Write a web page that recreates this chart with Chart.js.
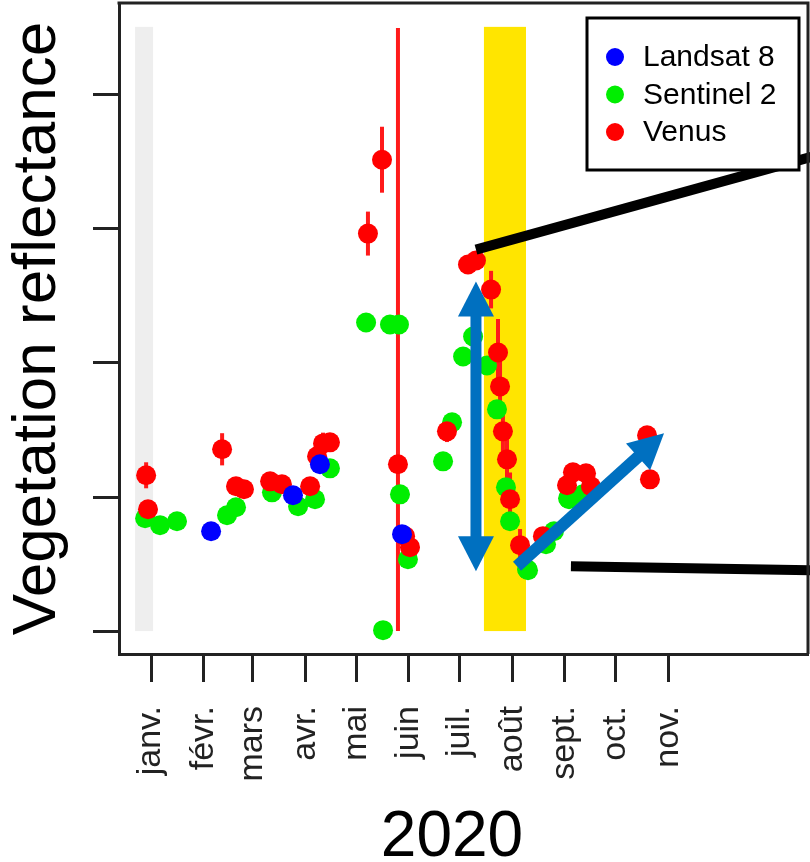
<!DOCTYPE html>
<html>
<head>
<meta charset="utf-8">
<script src="https://cdn.jsdelivr.net/npm/chart.js@4.4.1/dist/chart.umd.min.js"></script>
<style>
  html, body { margin: 0; padding: 0; background: #fff; overflow: hidden; }
</style>
</head>
<body>
<canvas id="chart" width="810" height="862"></canvas>
<script>
// x values are days since 1 Jan 2020, y values are reflectance
const monthDays = [0, 31, 60, 91, 121, 152, 182, 213, 244, 274, 305];
const monthLabels = ['janv.', 'févr.', 'mars', 'avr.', 'mai', 'juin', 'juil.', 'août', 'sept.', 'oct.', 'nov.'];
const yTicks = [0, 0.1, 0.2, 0.3, 0.4];
const xMin = -18.9, xMax = 387.4;
const yMin = -0.0171, yMax = 0.4685;

const landsatDay = [35.4, 83.7, 99.6, 148.0];
const landsatRefl = [0.0745, 0.1013, 0.1244, 0.0723];

const sentinelDay = [-3.5, 5.3, 15.3, 44.8, 50.1, 71.3, 86.7, 96.7, 105.5, 126.8, 140.9, 146.2, 136.8, 146.8, 151.5,
  172.2, 177.5, 184.0, 189.9, 198.1, 204.0, 209.3, 211.7, 221.7, 222.3, 232.9, 237.6, 245.9, 246.5, 254.7];
const sentinelRefl = [0.0842, 0.0790, 0.0819, 0.0864, 0.0924, 0.1035, 0.0931, 0.0983, 0.1214, 0.2302, 0.2287, 0.2287, 0.0007, 0.1020, 0.0536,
  0.1266, 0.1557, 0.2048, 0.2197, 0.1981, 0.1654, 0.1073, 0.0819, 0.0462, 0.0454, 0.0648, 0.0745, 0.0991, 0.0983, 0.1020];

const venusDay = [-2.9, -1.8, 41.9, 50.1, 54.8, 70.2, 77.2, 93.8, 97.9, 101.4, 105.5, 127.9, 136.2, 145.6, 149.8, 152.7,
  174.5, 186.9, 191.6, 200.5, 204.6, 205.8, 207.5, 209.9, 211.7, 217.6, 231.1, 245.3, 248.8, 256.5, 259.4, 292.5, 294.2];
const venusRefl = [0.1162, 0.0909, 0.1356, 0.1080, 0.1058, 0.1117, 0.1095, 0.1080, 0.1304, 0.1400, 0.1408, 0.2965, 0.3516, 0.1244, 0.0708, 0.0626,
  0.1490, 0.2734, 0.2764, 0.2547, 0.2078, 0.1825, 0.1490, 0.1281, 0.0983, 0.0641, 0.0708, 0.1088, 0.1184, 0.1177, 0.1080, 0.1460, 0.1132];
// error bar ends (low / high)
const venusLow = [0.1065, 0.0909, 0.1236, 0.1080, 0.1058, 0.1117, 0.1095, 0.1080, 0.1304, 0.1320, 0.1408, 0.2801, 0.3270, 0.0000, 0.0708, 0.0626,
  0.1410, 0.2734, 0.2764, 0.2407, 0.1828, 0.1625, 0.1290, 0.1081, 0.0783, 0.0521, 0.0708, 0.1088, 0.1184, 0.1177, 0.1080, 0.1460, 0.1132];
const venusHigh = [0.1259, 0.0909, 0.1476, 0.1080, 0.1058, 0.1117, 0.1095, 0.1080, 0.1304, 0.1480, 0.1408, 0.3129, 0.3762, 0.4499, 0.0708, 0.0626,
  0.1570, 0.2734, 0.2764, 0.2687, 0.2328, 0.2025, 0.1690, 0.1481, 0.1183, 0.0761, 0.0708, 0.1088, 0.1184, 0.1177, 0.1080, 0.1460, 0.1132];

// shaded periods (days) and their top
const grayBand = [-9.4, 1.2];
const yellowBand = [196.3, 221.1];
const bandTop = 0.4507;

// annotation strokes in data units [day, refl]
const blackLines = [
  [[191.6, 0.2845], [389.7, 0.3538]],
  [[247.6, 0.0484], [389.7, 0.0454]]
];
const upDownArrow = [[191.6, 0.0447], [191.6, 0.2607]];
const riseArrow = [[215.8, 0.0484], [302.5, 0.1475]];

const FONT = "'Liberation Sans', Arial, sans-serif";

function toPoints(xs, ys) {
    return xs.map((x, i) => ({ x: x, y: ys[i] }));
}

function drawArrow(ctx, a, b, shaft, headLen, headHalf, both) {
    const dx = b.x - a.x, dy = b.y - a.y;
    const len = Math.hypot(dx, dy);
    const ux = dx / len, uy = dy / len;
    const nx = -uy, ny = ux;
    const start = both ? { x: a.x + ux * headLen * 0.9, y: a.y + uy * headLen * 0.9 } : a;
    const end = { x: b.x - ux * headLen * 0.9, y: b.y - uy * headLen * 0.9 };
    ctx.lineWidth = shaft;
    ctx.lineCap = 'butt';
    ctx.beginPath();
    ctx.moveTo(start.x, start.y);
    ctx.lineTo(end.x, end.y);
    ctx.stroke();
    const head = (tip, dirx, diry) => {
        const bx = tip.x - dirx * headLen, by = tip.y - diry * headLen;
        ctx.beginPath();
        ctx.moveTo(tip.x, tip.y);
        ctx.lineTo(bx + nx * headHalf, by + ny * headHalf);
        ctx.lineTo(bx - nx * headHalf, by - ny * headHalf);
        ctx.closePath();
        ctx.fill();
    };
    head(b, ux, uy);
    if (both) head(a, -ux, -uy);
}

const decorPlugin = {
    id: 'decor',
    beforeDatasetsDraw(chart) {
        const ctx = chart.ctx;
        const xs = chart.scales.x, ys = chart.scales.y;
        const top = ys.getPixelForValue(bandTop), bottom = ys.getPixelForValue(0);

        // shaded periods
        ctx.save();
        ctx.fillStyle = '#eeeeee';
        let x0 = xs.getPixelForValue(grayBand[0]), x1 = xs.getPixelForValue(grayBand[1]);
        ctx.fillRect(x0, top, x1 - x0, bottom - top);
        ctx.fillStyle = '#ffe500';
        x0 = xs.getPixelForValue(yellowBand[0]);
        x1 = xs.getPixelForValue(yellowBand[1]);
        ctx.fillRect(x0, top, x1 - x0, bottom - top);

        // Venus error bars
        ctx.strokeStyle = '#ff1a1a';
        ctx.lineWidth = 4;
        venusDay.forEach((d, i) => {
            if (venusHigh[i] - venusLow[i] <= 0) return;
            const px = xs.getPixelForValue(d);
            ctx.beginPath();
            ctx.moveTo(px, ys.getPixelForValue(venusLow[i]));
            ctx.lineTo(px, ys.getPixelForValue(venusHigh[i]));
            ctx.stroke();
        });
        ctx.restore();
    },
    afterDatasetsDraw(chart) {
        const ctx = chart.ctx;
        const xs = chart.scales.x, ys = chart.scales.y;
        const px = p => ({ x: xs.getPixelForValue(p[0]), y: ys.getPixelForValue(p[1]) });

        ctx.save();
        // black pointer lines
        ctx.strokeStyle = '#000';
        ctx.lineWidth = 10;
        ctx.lineCap = 'butt';
        blackLines.forEach(l => {
            const a = px(l[0]), b = px(l[1]);
            ctx.beginPath();
            ctx.moveTo(a.x, a.y);
            ctx.lineTo(b.x, b.y);
            ctx.stroke();
        });

        // blue arrows
        ctx.strokeStyle = '#0070c0';
        ctx.fillStyle = '#0070c0';
        drawArrow(ctx, px(upDownArrow[0]), px(upDownArrow[1]), 11, 35, 18, true);
        drawArrow(ctx, px(riseArrow[0]), px(riseArrow[1]), 12, 35, 18, false);
        ctx.restore();
    },
    afterDraw(chart) {
        const ctx = chart.ctx;
        const area = chart.chartArea;
        ctx.save();

        // top and right edges of the frame
        ctx.strokeStyle = '#222';
        ctx.lineWidth = 3;
        ctx.beginPath();
        ctx.moveTo(area.left - 1.5, area.top);
        ctx.lineTo(area.right, area.top);
        ctx.lineTo(area.right, area.bottom);
        ctx.stroke();

        // legend box
        ctx.fillStyle = '#fff';
        ctx.fillRect(587, 18, 212, 152);
        ctx.strokeStyle = '#000';
        ctx.lineWidth = 3;
        ctx.strokeRect(587, 18, 212, 152);
        const legendSets = [0, 1, 2].map(i => chart.data.datasets[i]);
        legendSets.forEach((ds, i) => {
            const cy = 57 + i * 37.5;
            ctx.fillStyle = ds.backgroundColor;
            ctx.beginPath();
            ctx.arc(615, cy, 9, 0, Math.PI * 2);
            ctx.fill();
            ctx.fillStyle = '#000';
            ctx.font = '30px ' + FONT;
            ctx.textBaseline = 'middle';
            ctx.textAlign = 'left';
            ctx.fillText(ds.label, 643, cy + 1);
        });

        // x axis title
        ctx.fillStyle = '#000';
        ctx.font = '64px ' + FONT;
        ctx.textAlign = 'center';
        ctx.textBaseline = 'alphabetic';
        ctx.fillText('2020', 452, 856);
        ctx.restore();
    }
};

const ctx = document.getElementById('chart').getContext('2d');
new Chart(ctx, {
    type: 'scatter',
    data: {
        datasets: [
            {
                label: 'Landsat 8',
                data: toPoints(landsatDay, landsatRefl),
                backgroundColor: '#0000ff',
                order: 0
            },
            {
                label: 'Sentinel 2',
                data: toPoints(sentinelDay, sentinelRefl),
                backgroundColor: '#00ee00',
                order: 2
            },
            {
                label: 'Venus',
                data: toPoints(venusDay, venusRefl),
                backgroundColor: '#ff0000',
                order: 1
            }
        ]
    },
    options: {
        responsive: false,
        animation: false,
        devicePixelRatio: 1,
        elements: {
            point: { radius: 10, borderWidth: 0, hoverRadius: 10 }
        },
        layout: { autoPadding: false, padding: { top: 3, right: 2, left: 0, bottom: 0 } },
        plugins: {
            legend: { display: false },
            tooltip: { enabled: false }
        },
        scales: {
            x: {
                type: 'linear',
                min: xMin,
                max: xMax,
                afterFit: s => { s.height = 208; },
                afterBuildTicks: s => { s.ticks = monthDays.map(v => ({ value: v })); },
                grid: { drawOnChartArea: false, drawTicks: true, tickLength: 28, tickWidth: 3, tickColor: '#222' },
                border: { display: true, color: '#222', width: 3 },
                ticks: {
                    autoSkip: false,
                    minRotation: 90,
                    maxRotation: 90,
                    padding: 24,
                    color: '#222',
                    font: { family: FONT, size: 34 },
                    callback: (v, i) => monthLabels[i]
                }
            },
            y: {
                type: 'linear',
                min: yMin,
                max: yMax,
                afterFit: s => { s.width = 119; },
                afterBuildTicks: s => { s.ticks = yTicks.map(v => ({ value: v })); },
                grid: { drawOnChartArea: false, drawTicks: true, tickLength: 26, tickWidth: 3, tickColor: '#222' },
                border: { display: true, color: '#222', width: 3 },
                ticks: { display: false },
                title: {
                    display: true,
                    text: 'Vegetation reflectance',
                    color: '#000',
                    font: { family: FONT, size: 62 },
                    padding: { top: 1, bottom: 0 }
                }
            }
        }
    },
    plugins: [decorPlugin]
});
</script>
</body>
</html>
